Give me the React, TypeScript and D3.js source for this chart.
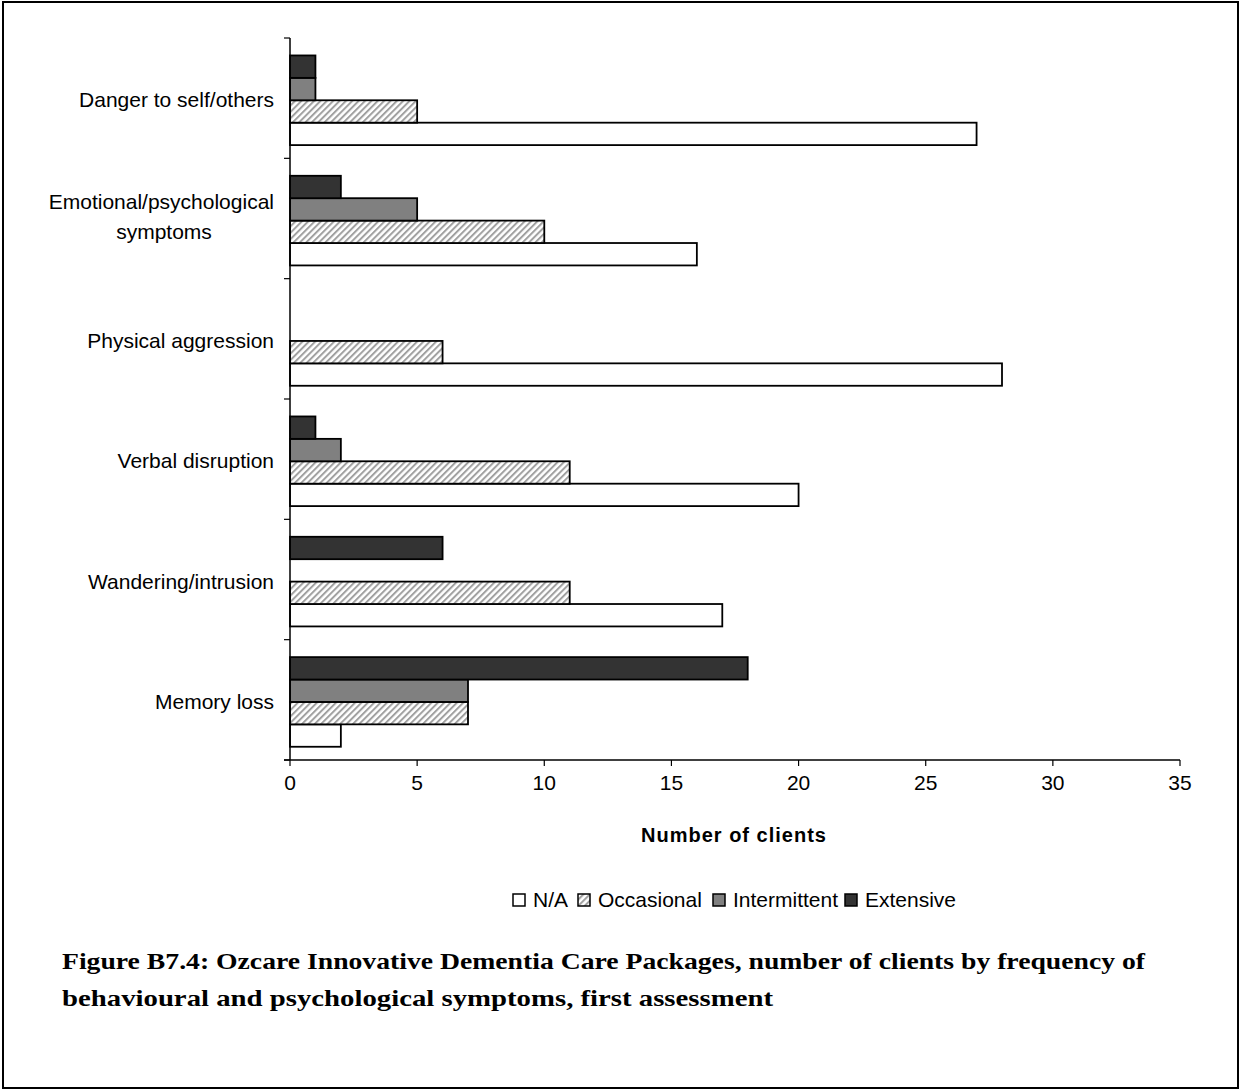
import React from "react";
import * as d3 from "d3";

// Symptom categories, listed top to bottom
const categories = [
  "Danger to self/others",
  "Emotional/psychological symptoms",
  "Physical aggression",
  "Verbal disruption",
  "Wandering/intrusion",
  "Memory loss",
];

// Number of clients per frequency level, in category order
const naValues = [27, 16, 28, 20, 17, 2];
const occasionalValues = [5, 10, 6, 11, 11, 7];
const intermittentValues = [1, 5, 0, 2, 0, 7];
const extensiveValues = [1, 2, 0, 1, 6, 18];

const seriesNames = ["N/A", "Occasional", "Intermittent", "Extensive"];
const xTicks = [0, 5, 10, 15, 20, 25, 30, 35];

const W = 1241;
const H = 1090;
const plot = { left: 290, right: 1180, top: 38, bottom: 760 };

const fills: Record<string, string> = {
  "N/A": "#ffffff",
  Occasional: "url(#hatch)",
  Intermittent: "#808080",
  Extensive: "#333333",
};

const seriesData: Record<string, number[]> = {
  "N/A": naValues,
  Occasional: occasionalValues,
  Intermittent: intermittentValues,
  Extensive: extensiveValues,
};

const categoryLines: Record<string, string[]> = {
  "Emotional/psychological symptoms": ["Emotional/psychological", "symptoms"],
};

export default function App() {
  const x = d3.scaleLinear().domain([0, 35]).range([plot.left, plot.right]);
  const y = d3
    .scaleBand<string>()
    .domain(categories)
    .range([plot.top, plot.bottom])
    .paddingInner(0)
    .paddingOuter(0);
  const bw = y.bandwidth();
  // series stacked top-to-bottom in reverse legend order
  const inner = d3
    .scaleBand<string>()
    .domain([...seriesNames].reverse())
    .range([bw * 0.145, bw * 0.89]);

  const sans = "'Liberation Sans', Arial, sans-serif";
  const serif = "'Liberation Serif', 'Times New Roman', serif";
  const fs = 21;
  const boundaries = d3.range(categories.length + 1).map((i) => plot.top + i * bw);

  const legendItems = [
    { name: "N/A", x: 513 },
    { name: "Occasional", x: 578 },
    { name: "Intermittent", x: 713 },
    { name: "Extensive", x: 845 },
  ];

  return (
    <svg
      width={W}
      height={H}
      style={{ position: "absolute", left: 0, top: 0, background: "#fff" }}
    >
      <defs>
        <pattern
          id="hatch"
          patternUnits="userSpaceOnUse"
          width={4.5}
          height={4.5}
          patternTransform="rotate(45)"
        >
          <rect width={4.5} height={4.5} fill="#ffffff" />
          <rect width={2} height={4.5} fill="#a0a0a0" />
        </pattern>
      </defs>
      <rect x={0} y={0} width={W} height={H} fill="#fff" />
      <rect x={3} y={2} width={1235} height={1086} fill="none" stroke="#000" strokeWidth={2} />

      {/* bars */}
      {categories.map((c, ci) =>
        seriesNames.map((s) => {
          const v = seriesData[s][ci];
          if (v === 0) return null;
          const by = (y(c) as number) + (inner(s) as number);
          return (
            <rect
              key={c + s}
              x={x(0)}
              y={by}
              width={x(v) - x(0)}
              height={inner.bandwidth()}
              fill={fills[s]}
              stroke="#000"
              strokeWidth={1.8}
            />
          );
        })
      )}

      {/* y axis */}
      <line x1={plot.left} x2={plot.left} y1={plot.top} y2={plot.bottom} stroke="#000" strokeWidth={1.5} />
      {boundaries.map((b, i) => (
        <line key={i} x1={plot.left - 6} x2={plot.left} y1={b} y2={b} stroke="#000" strokeWidth={1.2} />
      ))}
      {categories.map((c) => {
        const lines = categoryLines[c] || [c];
        const cy = (y(c) as number) + bw / 2;
        const x0 = plot.left - 16;
        if (lines.length === 1) {
          return (
            <text key={c} x={x0} y={cy + 9} textAnchor="end" fontFamily={sans} fontSize={fs}>
              {c}
            </text>
          );
        }
        return (
          <g key={c}>
            <text x={x0} y={cy - 10} textAnchor="end" fontFamily={sans} fontSize={fs}>
              {lines[0]}
            </text>
            <text x={x0 - 110} y={cy + 20} textAnchor="middle" fontFamily={sans} fontSize={fs}>
              {lines[1]}
            </text>
          </g>
        );
      })}

      {/* x axis */}
      <line x1={plot.left - 6} x2={plot.right} y1={plot.bottom} y2={plot.bottom} stroke="#000" strokeWidth={1.5} />
      {xTicks.map((t) => (
        <g key={t}>
          <line x1={x(t)} x2={x(t)} y1={plot.bottom} y2={plot.bottom + 6} stroke="#000" strokeWidth={1.2} />
          <text x={x(t)} y={plot.bottom + 30} textAnchor="middle" fontFamily={sans} fontSize={fs}>
            {t}
          </text>
        </g>
      ))}
      <text
        x={734}
        y={842}
        textAnchor="middle"
        fontFamily={sans}
        fontSize={20}
        fontWeight="bold"
        letterSpacing={1}
      >
        Number of clients
      </text>

      {/* legend */}
      {legendItems.map((li) => (
        <g key={li.name}>
          <rect x={li.x} y={894} width={12} height={12} fill={fills[li.name]} stroke="#000" strokeWidth={1.5} />
          <text x={li.x + 20} y={907} fontFamily={sans} fontSize={fs}>
            {li.name}
          </text>
        </g>
      ))}

      {/* caption */}
      <text
        x={62}
        y={969}
        fontFamily={serif}
        fontWeight="bold"
        fontSize={24}
        textLength={1083}
        lengthAdjust="spacingAndGlyphs"
      >
        Figure B7.4: Ozcare Innovative Dementia Care Packages, number of clients by frequency of
      </text>
      <text
        x={62}
        y={1006}
        fontFamily={serif}
        fontWeight="bold"
        fontSize={24}
        textLength={711}
        lengthAdjust="spacingAndGlyphs"
      >
        behavioural and psychological symptoms, first assessment
      </text>
    </svg>
  );
}
